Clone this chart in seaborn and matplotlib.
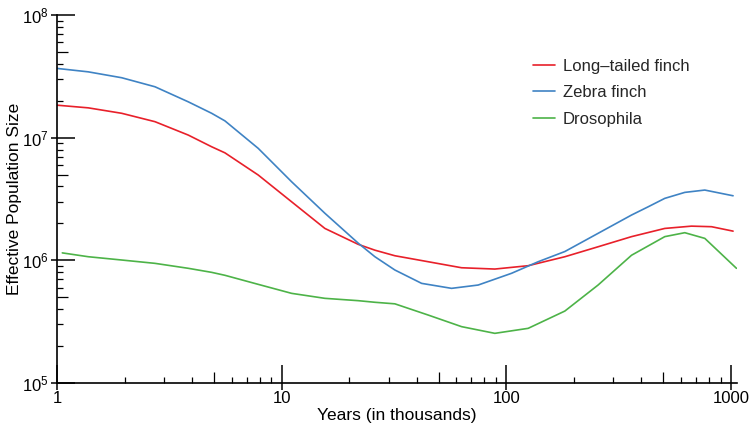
import pandas as pd
import matplotlib
matplotlib.use("Agg")
import matplotlib.pyplot as plt
import matplotlib.ticker as mticker
import seaborn as sns

# ---- data (x in thousands of years) ------------------------------------------
red_x = [1.0, 1.378, 1.941, 2.730, 3.840, 4.881, 5.594, 7.868, 11.08, 15.58,
         21.93, 26.02, 31.93, 44.94, 63.26, 88.98, 125.2, 182.4, 256.4, 361.2,
         507.9, 667.6, 820.0, 1023]
red_y = [1.84e7, 1.75e7, 1.58e7, 1.35e7, 1.05e7, 8.43e6, 7.52e6, 4.96e6,
         3.00e6, 1.82e6, 1.35e6, 1.21e6, 1.09e6, 9.74e5, 8.70e5, 8.49e5,
         9.04e5, 1.07e6, 1.29e6, 1.56e6, 1.82e6, 1.90e6, 1.88e6, 1.73e6]

blue_x = [1.0, 1.378, 1.941, 2.730, 3.840, 4.881, 5.594, 7.868, 11.08, 15.58,
          21.93, 26.02, 31.93, 42.0, 57.1, 75.0, 105.6, 138.7, 182.4, 256.4,
          361.2, 428.1, 507.9, 623.5, 765.6, 1023]
blue_y = [3.67e7, 3.44e7, 3.08e7, 2.60e7, 1.96e7, 1.58e7, 1.37e7, 8.18e6,
          4.37e6, 2.42e6, 1.38e6, 1.07e6, 8.34e5, 6.49e5, 5.91e5, 6.29e5,
          7.84e5, 9.74e5, 1.18e6, 1.66e6, 2.34e6, 2.73e6, 3.20e6, 3.58e6,
          3.74e6, 3.36e6]

green_x = [1.056, 1.378, 1.941, 2.730, 3.840, 4.881, 5.594, 7.868, 11.08,
           15.58, 21.93, 26.02, 31.93, 44.94, 63.26, 88.98, 125.2, 182.4,
           256.4, 361.2, 507.9, 623.5, 765.6, 1059]
green_y = [1.15e6, 1.07e6, 1.006e6, 9.45e5, 8.61e5, 7.98e5, 7.55e5, 6.37e5,
           5.38e5, 4.90e5, 4.69e5, 4.55e5, 4.42e5, 3.58e5, 2.88e5, 2.54e5,
           2.79e5, 3.86e5, 6.29e5, 1.10e6, 1.56e6, 1.68e6, 1.51e6, 8.61e5]

series_names = ["Long\u2013tailed finch", "Zebra finch", "Drosophila"]
series_colors = ["#E8202A", "#3F83C4", "#4DB348"]

x_ticks = [1, 10, 100, 1000]
x_tick_labels = ["1", "10", "100", "1000"]
x_mid_ticks = [5, 50, 500]
y_ticks = [1e5, 1e6, 1e7, 1e8]
y_tick_labels = ["$\\mathregular{10^{5}}$", "$\\mathregular{10^{6}}$",
                 "$\\mathregular{10^{7}}$", "$\\mathregular{10^{8}}$"]
y_mid_ticks = [5e5, 5e6, 5e7]

df = pd.concat([
    pd.DataFrame({"x": red_x, "y": red_y, "species": series_names[0]}),
    pd.DataFrame({"x": blue_x, "y": blue_y, "species": series_names[1]}),
    pd.DataFrame({"x": green_x, "y": green_y, "species": series_names[2]}),
], ignore_index=True)

# ---- style --------------------------------------------------------------------
sns.set_theme(style="ticks")
plt.rcParams["font.family"] = ["Liberation Sans", "DejaVu Sans"]
plt.rcParams["axes.linewidth"] = 1.2

fig = plt.figure(figsize=(7.52, 4.34), dpi=100)
ax = fig.add_axes([57 / 752, 1 - 383 / 434, (737 - 57) / 752, (383 - 15) / 434])

sns.lineplot(data=df, x="x", y="y", hue="species", hue_order=series_names,
             palette=series_colors, sort=False, estimator=None,
             linewidth=1.2, ax=ax)

ax.set_xscale("log")
ax.set_yscale("log")
ax.set_xlim(1, 1065)
ax.set_ylim(1e5, 1e8)

sns.despine(ax=ax)
ax.spines["left"].set_color("black")
ax.spines["bottom"].set_color("black")

ax.set_xticks(x_ticks)
ax.set_xticklabels(x_tick_labels)
ax.set_yticks(y_ticks)
ax.set_yticklabels(y_tick_labels)
minor_subs = [2, 3, 4, 6, 7, 8, 9]
ax.xaxis.set_minor_locator(mticker.LogLocator(base=10, subs=minor_subs, numticks=20))
ax.yaxis.set_minor_locator(mticker.LogLocator(base=10, subs=minor_subs, numticks=20))
ax.xaxis.set_minor_formatter(mticker.NullFormatter())
ax.yaxis.set_minor_formatter(mticker.NullFormatter())

ax.tick_params(which="major", direction="in", length=13, width=1.1,
               color="black", labelsize=12, labelcolor="black", pad=6)
ax.tick_params(which="minor", direction="in", length=4.5, width=0.9, color="black")


# extra tick sets: the longer 5x ticks and the short outward stub of major ticks
def extra_ticks(sec, axis, ticks, direction, length, width):
    a = sec.xaxis if axis == "x" else sec.yaxis
    a.set_major_locator(mticker.FixedLocator(ticks))
    a.set_major_formatter(mticker.NullFormatter())
    a.set_minor_locator(mticker.NullLocator())
    sec.tick_params(which="major", direction=direction, length=length,
                    width=width, color="black")
    for sp in sec.spines.values():
        sp.set_visible(False)


extra_ticks(ax.secondary_xaxis("bottom"), "x", x_mid_ticks, "in", 8, 0.9)
extra_ticks(ax.secondary_yaxis("left"), "y", y_mid_ticks, "in", 8, 0.9)
extra_ticks(ax.secondary_xaxis("bottom"), "x", x_ticks, "out", 5, 1.1)
extra_ticks(ax.secondary_yaxis("left"), "y", y_ticks, "out", 4, 1.1)

ax.set_xlabel("Years (in thousands)", fontsize=12.5, color="black", labelpad=1)
ax.set_ylabel("Effective Population Size", fontsize=12.5, color="black")
ax.yaxis.set_label_coords(-0.051, 0.5)

leg = ax.legend(loc="upper left", bbox_to_anchor=(533 / 752, 1 - 59 / 434),
                bbox_transform=fig.transFigure, frameon=False, fontsize=12,
                handlelength=1.3, handletextpad=0.5, labelspacing=0.68,
                borderpad=0, borderaxespad=0, title=None)

fig.savefig("out.png", dpi=100)
